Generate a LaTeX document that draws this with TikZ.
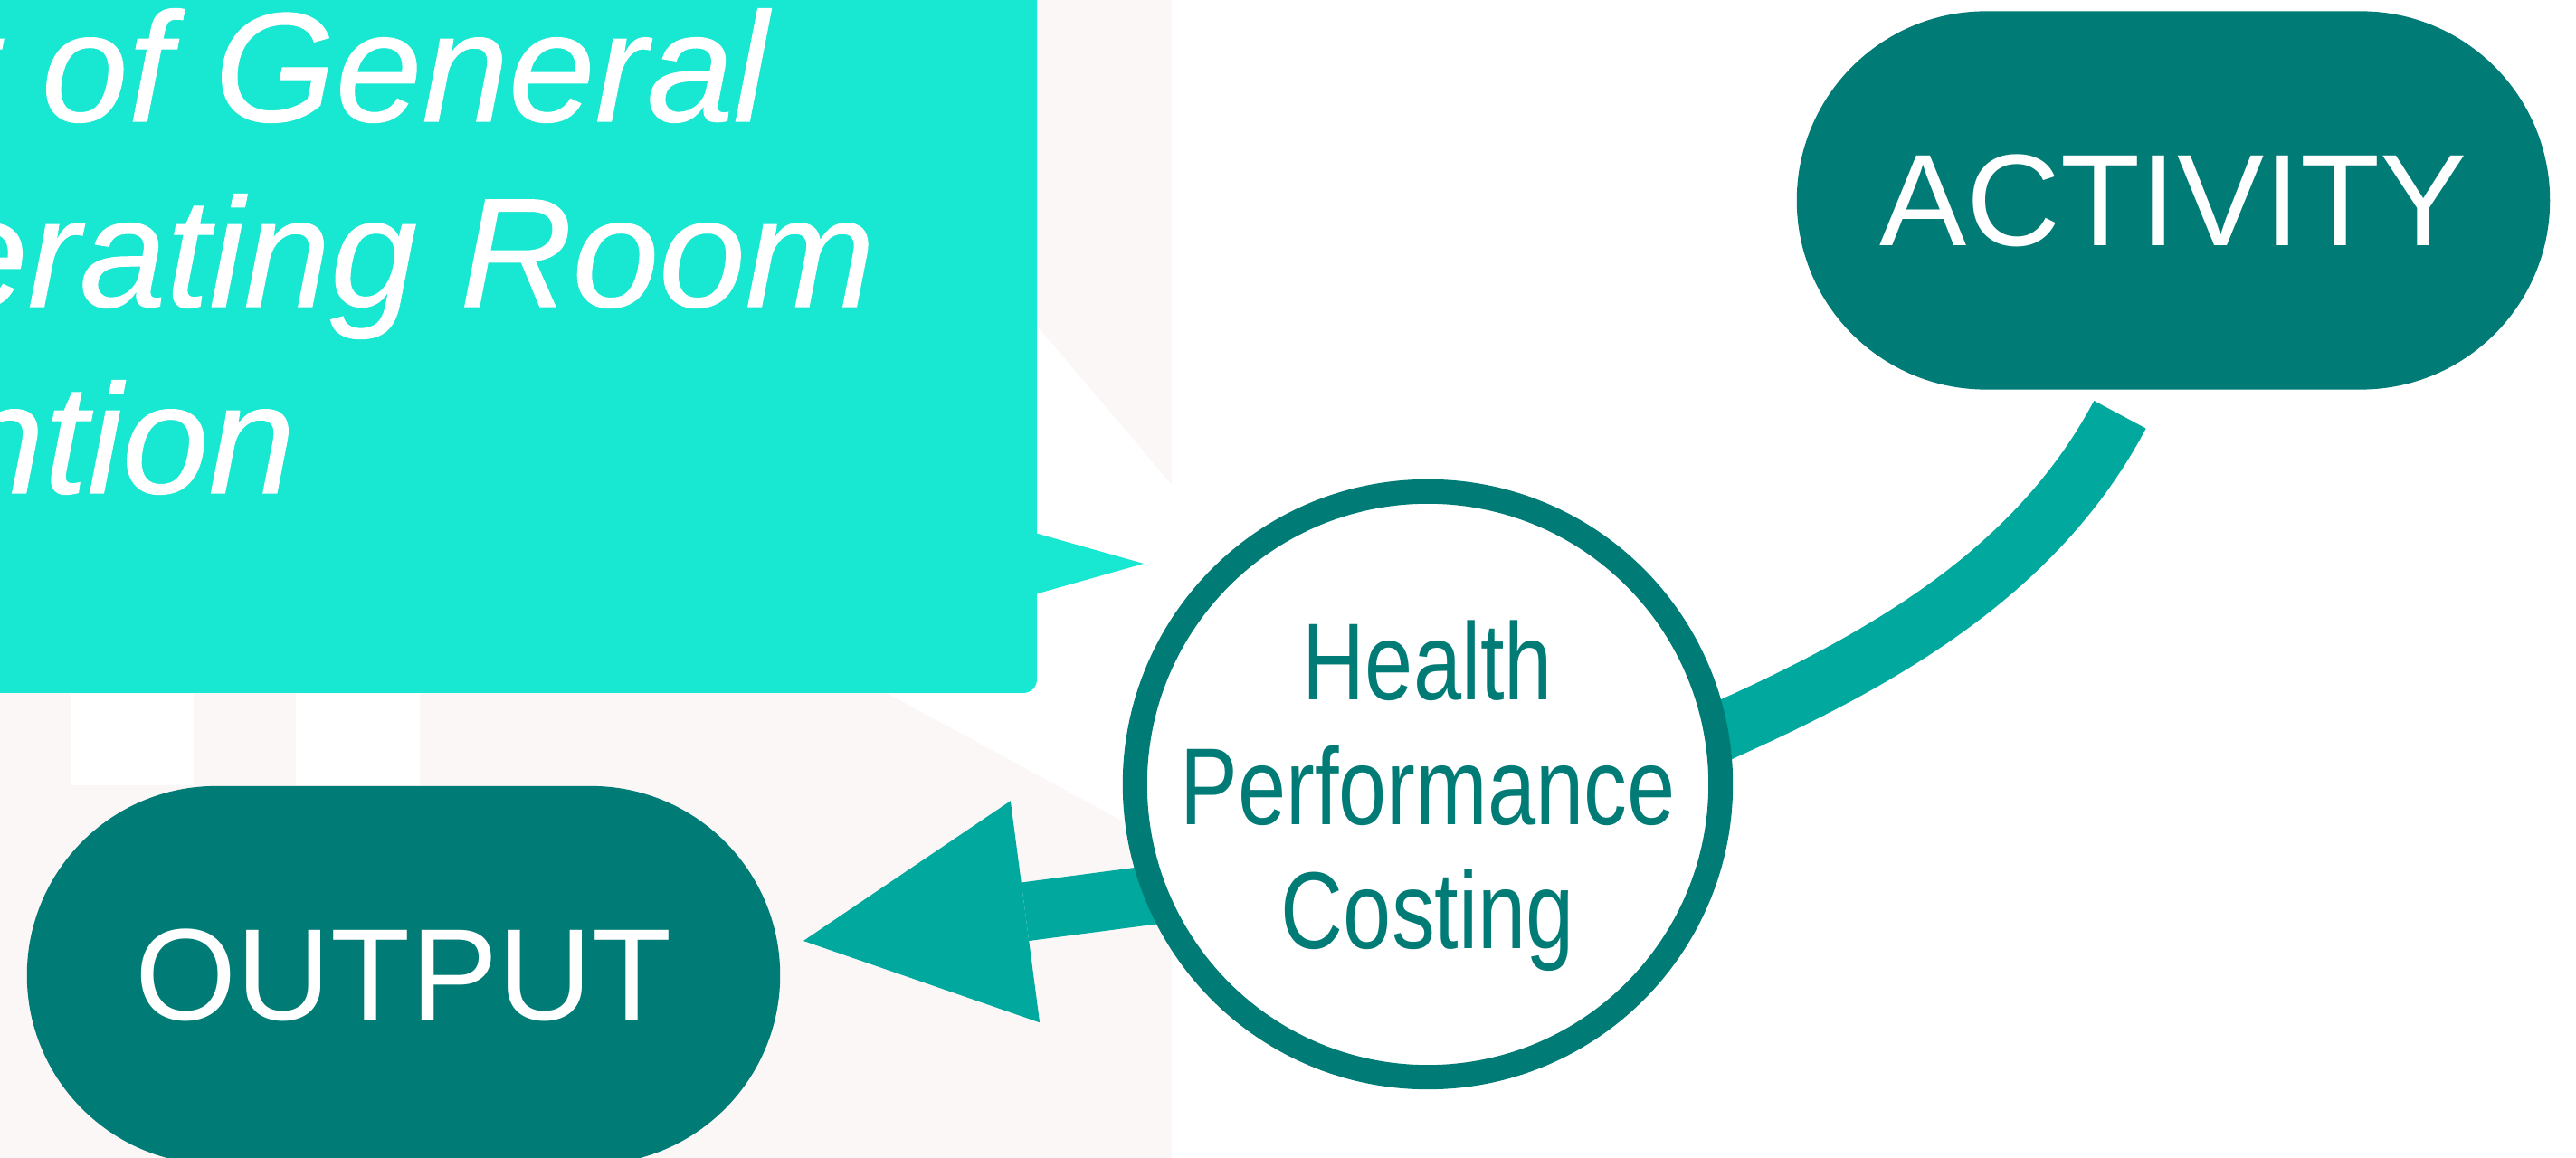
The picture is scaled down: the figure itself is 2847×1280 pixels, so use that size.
\documentclass[tikz,border=0pt]{standalone}
\usepackage{fontspec}
\setmainfont{Liberation Sans}
\newfontfamily\narrowfont[FakeStretch=0.79]{Liberation Sans}
\newfontfamily\boxfont[ItalicFeatures={FakeBold=0.6}]{Liberation Sans}
\usetikzlibrary{shapes.misc,arrows.meta,calc}
\definecolor{darkteal}{RGB}{0,123,117}
\definecolor{arrowteal}{RGB}{0,168,157}
\definecolor{aqua}{RGB}{24,231,210}
\definecolor{blush}{RGB}{251,247,246}
\pgfdeclarelayer{back}
\pgfdeclarelayer{links}
\pgfsetlayers{back,links,main}
\tikzset{
  pill/.style={rounded rectangle, fill=darkteal, text=white, minimum width=8.32cm,
    minimum height=4.18cm, inner sep=0pt, font=\fontsize{41}{49}\selectfont},
  hub/.style={circle, draw=darkteal, line width=0.27cm, fill=white,
    minimum size=6.47cm, inner sep=0pt},
  hubtext/.style={align=center, text=darkteal, inner sep=0pt,
    font=\narrowfont\fontsize{34.4}{39.1}\selectfont},
  flow/.style={draw=arrowteal, line width=0.65cm},
  boxline/.style={anchor=base west, inner sep=0pt, text=white,
    font=\boxfont\itshape\fontsize{48.9}{58}\selectfont},
}
\begin{document}
\begin{tikzpicture}[x=0.01cm,y=-0.01cm]
\useasboundingbox (0,0) rectangle (2847,1280);
\clip (0,0) rectangle (2847,1280);
\begin{pgfonlayer}{back}
  \fill[white] (0,0) rectangle (2847,1280);
  \fill[blush] (0,0) rectangle (1295,1280);
  \fill[white] (79,766) rectangle (214,868);
  \fill[white] (327,766) rectangle (464,868);
  \fill[white] (1146,360) -- (1295,536) -- (1295,937) -- (980,766) -- cycle;
\end{pgfonlayer}
% callout box
\fill[aqua, rounded corners=0.15cm] (-60,-60) rectangle (1146,766);
\fill[aqua] (1140,588) -- (1264,623) -- (1140,658) -- cycle;
\node[boxline] (t1) at (-356,134) {Cost of General};
\node[boxline] (t2) at (-295,339) {Operating Room};
\node[boxline] (t3) at (-573,545) {Intervention};
% nodes
\node[hub] (hpc) at (1578,867) {};
\node[hubtext] (hpclabel) at ($(hpc.center)+(0,13)$) {Health\\Performance\\Costing};
\node[pill] (act) at (2402,221.5) {ACTIVITY};
\node[pill] (out) at (446,1078) {OUTPUT};
% connectors
\begin{pgfonlayer}{links}
  \coordinate (actEnd) at ($(act.south)+(-59,27)$);
  \draw[flow] (actEnd) .. controls ($(actEnd)+(-90,170)$) and ($(hpc.center)+(511,-142)$)
    .. ($(hpc.center)+(328,-60)$) -- ($(hpc.center)+(256,-24)$);
  \coordinate (outTip) at ($(out.east)+(25,-38)$);
  \draw[flow, -{Triangle[length=2.47cm,width=2.47cm,line width=0pt]}]
    ($(hpc.center)+(-196,108)$) -- (outTip);
\end{pgfonlayer}
\end{tikzpicture}
\end{document}
